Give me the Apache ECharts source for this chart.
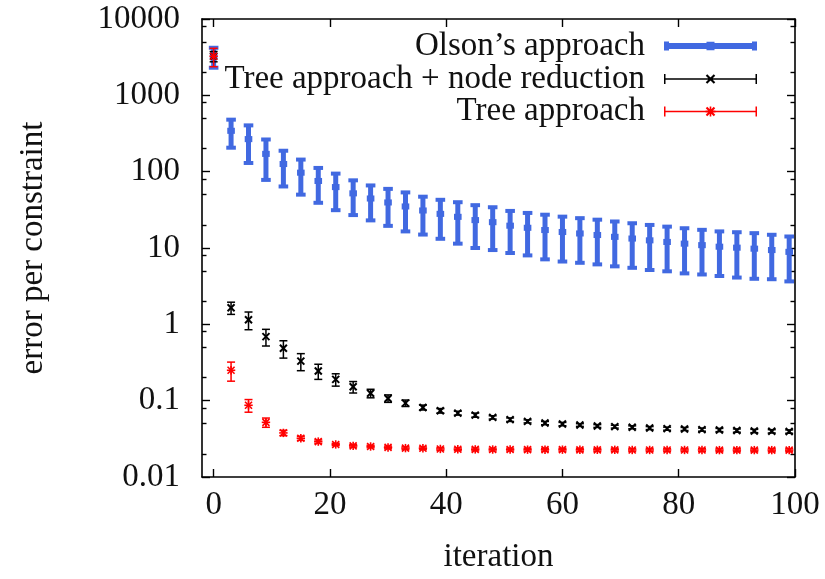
<!DOCTYPE html>
<html>
<head>
<meta charset="utf-8">
<script src="https://cdn.jsdelivr.net/npm/echarts@6/dist/echarts.min.js"></script>
<style>html,body{margin:0;padding:0;background:#fff}#c{width:825px;height:579px}</style>
</head>
<body>
<div id="c"></div>
<script>
const iterations = [0,3,6,9,12,15,18,21,24,27,30,33,36,39,42,45,48,51,54,57,60,63,66,69,72,75,78,81,84,87,90,93,96,99];
const olsonMean = [3250,343,267,171,126,97,75.5,62.8,52,44.5,39.5,35,31,28,25.6,23.2,21.8,19.6,18.4,17.2,16.2,15.5,14.8,14,13.3,12.6,12,11.4,10.9,10.4,10.1,9.8,9.4,8.9];
const olsonStd  = [950,137,137,93,62,47,36.4,31.5,25,21.5,20,18.5,16,14.8,14.2,13.2,12.4,11,10.4,10.1,9.55,9.1,8.7,8.25,7.8,7.45,7.05,6.75,6.4,6.1,6.0,5.85,5.5,5.25];
const nodeRedMean = [3250,1.65,1.15,0.69,0.485,0.33,0.245,0.19,0.152,0.125,0.107,0.0929,0.0815,0.0738,0.0687,0.0647,0.0604,0.0564,0.0536,0.0509,0.0494,0.048,0.0466,0.0457,0.0448,0.0438,0.043,0.0426,0.0418,0.0413,0.0406,0.0401,0.0397,0.0394];
const nodeRedStd  = [500,0.3,0.3,0.17,0.124,0.083,0.055,0.035,0.026,0.016,0.012,0.009,0.006,0.005,0.004,0.004,0.003,0.003,0.0025,0.0025,0.0025,0.002,0.002,0.002,0.002,0.002,0.002,0.002,0.002,0.002,0.002,0.002,0.002,0.002];
const treeMean = [3250,0.25,0.087,0.052,0.0378,0.0322,0.0291,0.0267,0.0256,0.0251,0.0244,0.0239,0.0238,0.0233,0.0231,0.023,0.0229,0.0229,0.0228,0.0228,0.0228,0.0227,0.0227,0.0227,0.0226,0.0226,0.0226,0.0226,0.0226,0.0225,0.0225,0.0225,0.0225,0.0225];
const treeStd  = [880,0.07,0.0164,0.0072,0.003,0.002,0.0015,0.001,0.001,0.001,0.001,0.001,0.001,0.001,0.001,0.001,0.001,0.001,0.001,0.001,0.001,0.001,0.001,0.001,0.001,0.001,0.001,0.001,0.001,0.001,0.001,0.001,0.001,0.001];

const seriesNames = ['Olson\u2019s approach', 'Tree approach + node reduction', 'Tree approach'];
const xTickValues = [0,20,40,60,80,100];
const yTickValues = [0.01,0.1,1,10,100,1000,10000];
const yTickLabels = ['0.01','0.1','1','10','100','1000','10000'];
const yMinorTickValues = [0.02,0.05,0.08,0.2,0.5,0.8,2,5,8,20,50,80,200,500,800,2000,5000,8000];

const FONT = 'Liberation Serif';
const FS = 33;
const TXT = '#111';
const BLUE = '#4169e1', BLACK = '#000000', RED = '#ff0000';

function rows(m, s) { return iterations.map((x, i) => [x, m[i], s[i]]); }

function errRender(cfg) {
  return function (params, api) {
    const x = api.value(0), y = api.value(1), d = api.value(2);
    const c = api.coord([x, y]);
    const t = api.coord([x, y + d]);
    const b = api.coord([x, Math.max(y - d, 1e-6)]);
    const hw = cfg.capHalf;
    const st = (lw) => ({ stroke: cfg.color, lineWidth: lw, fill: null });
    const ch = [
      { type: 'line', shape: { x1: c[0], y1: t[1], x2: c[0], y2: b[1] }, style: st(cfg.lw) },
      { type: 'line', shape: { x1: c[0] - hw, y1: t[1], x2: c[0] + hw, y2: t[1] }, style: st(cfg.capLw) },
      { type: 'line', shape: { x1: c[0] - hw, y1: b[1], x2: c[0] + hw, y2: b[1] }, style: st(cfg.capLw) }
    ];
    const r = cfg.mk;
    if (cfg.marker === 'square') {
      ch.push({ type: 'rect', shape: { x: c[0] - r, y: c[1] - r * 0.8, width: 2 * r, height: 1.6 * r }, style: { fill: cfg.color } });
    } else {
      ch.push({ type: 'line', shape: { x1: c[0] - r, y1: c[1] - r, x2: c[0] + r, y2: c[1] + r }, style: st(cfg.mkLw) });
      ch.push({ type: 'line', shape: { x1: c[0] - r, y1: c[1] + r, x2: c[0] + r, y2: c[1] - r }, style: st(cfg.mkLw) });
      if (cfg.marker === 'star') {
        ch.push({ type: 'line', shape: { x1: c[0] - r * 1.2, y1: c[1], x2: c[0] + r * 1.2, y2: c[1] }, style: st(cfg.mkLw) });
        ch.push({ type: 'line', shape: { x1: c[0], y1: c[1] - r * 1.2, x2: c[0], y2: c[1] + r * 1.2 }, style: st(cfg.mkLw) });
      }
    }
    return { type: 'group', children: ch };
  };
}

// legend icons (93 x 10 box)
const iconBlue = 'path://M0 1.5L93 1.5L93 7.5L0 7.5Z M0 0L5 0L5 9L0 9Z M88 0L93 0L93 9L88 9Z M42.5 0.3L50.5 0.3L50.5 8.7L42.5 8.7Z';
function crossPath(cx) {
  const a = 0.75;
  const p1 = `M${cx-4+a} ${1-a}L${cx+4+a} ${9-a}L${cx+4-a} ${9+a}L${cx-4-a} ${1+a}Z`;
  const p2 = `M${cx-4+a} ${9+a}L${cx-4-a} ${9-a}L${cx+4-a} ${1-a}L${cx+4+a} ${1+a}Z`;
  return p1 + ' ' + p2;
}
const thinBar = 'M0 4.25L93 4.25L93 5.75L0 5.75Z M0 0L1.5 0L1.5 10L0 10Z M91.5 0L93 0L93 10L91.5 10Z';
const iconBlack = 'path://' + thinBar + ' ' + crossPath(46.5);
const iconRed = 'path://' + thinBar + ' ' + crossPath(46.5) + ' M41.5 4.1L51.5 4.1L51.5 5.9L41.5 5.9Z M45.7 0L47.3 0L47.3 10L45.7 10Z';

function legendFor(name, icon, color, top) {
  return {
    data: [name], orient: 'vertical', right: 68, top: top, align: 'right', padding: 0,
    itemWidth: 93, itemHeight: 10, icon: icon, selectedMode: false,
    itemStyle: { color: color, borderWidth: 0 },
    textStyle: { fontFamily: FONT, fontSize: FS, color: TXT, padding: [0, 14, 0, 0] }
  };
}

const chart = echarts.init(document.getElementById('c'), null, { renderer: 'canvas' });
const axisLine = { show: true, onZero: false, lineStyle: { color: '#000', width: 1.6 } };
const tickStyle = { color: '#000', width: 1.4 };
chart.setOption({
  animation: false,
  backgroundColor: '#fff',
  grid: { left: 202, right: 30, top: 19, bottom: 99, containLabel: false },
  legend: [
    legendFor(seriesNames[0], iconBlue, BLUE, 29.5),
    legendFor(seriesNames[1], iconBlack, BLACK, 62.5),
    legendFor(seriesNames[2], iconRed, RED, 95)
  ],
  xAxis: [
    {
      type: 'value', min: -2, max: 100, position: 'bottom',
      axisLine: axisLine,
      axisTick: { show: true, inside: true, length: 8, customValues: xTickValues, lineStyle: tickStyle },
      axisLabel: { customValues: xTickValues, fontFamily: FONT, fontSize: FS, color: TXT, margin: 12 },
      splitLine: { show: false },
      name: 'iteration', nameLocation: 'middle', nameGap: 64,
      nameTextStyle: { fontFamily: FONT, fontSize: FS, color: TXT }
    },
    {
      type: 'value', min: -2, max: 100, position: 'top',
      axisLine: axisLine,
      axisTick: { show: true, inside: true, length: 8, customValues: xTickValues, lineStyle: tickStyle },
      axisLabel: { show: false }, splitLine: { show: false }
    }
  ],
  yAxis: [
    {
      type: 'log', logBase: 10, min: 0.01, max: 10000, splitNumber: 6, position: 'left',
      axisLine: axisLine,
      axisTick: { show: true, inside: true, length: 8, lineStyle: tickStyle },
      axisLabel: {
        fontFamily: FONT, fontSize: FS, color: TXT, margin: 22,
        formatter: function (v) {
          const i = yTickValues.findIndex(t => Math.abs(Math.log10(t) - Math.log10(v)) < 1e-6);
          return i >= 0 ? yTickLabels[i] : '';
        }
      },
      splitLine: { show: false },
      name: 'error per constraint', nameLocation: 'middle', nameGap: 152,
      nameTextStyle: { fontFamily: FONT, fontSize: FS, color: TXT }
    },
    {
      type: 'log', logBase: 10, min: 0.01, max: 10000, splitNumber: 6, position: 'right',
      axisLine: axisLine,
      axisTick: { show: true, inside: true, length: 8, lineStyle: tickStyle },
      axisLabel: { show: false }, splitLine: { show: false }
    },
    {
      type: 'value', min: -2, max: 4, position: 'left',
      axisLine: { show: false, onZero: false },
      axisTick: { show: true, inside: true, length: 4.5, customValues: yMinorTickValues.map(v => Math.log10(v)), lineStyle: tickStyle },
      axisLabel: { show: false }, splitLine: { show: false }
    },
    {
      type: 'value', min: -2, max: 4, position: 'right',
      axisLine: { show: false, onZero: false },
      axisTick: { show: true, inside: true, length: 4.5, customValues: yMinorTickValues.map(v => Math.log10(v)), lineStyle: tickStyle },
      axisLabel: { show: false }, splitLine: { show: false }
    }
  ],
  series: [
    {
      name: seriesNames[0], type: 'custom', xAxisIndex: 0, yAxisIndex: 0,
      itemStyle: { color: BLUE },
      encode: { x: 0, y: 1 },
      renderItem: errRender({ color: BLUE, lw: 5, capLw: 4, capHalf: 4.8, marker: 'square', mk: 3.8 }),
      data: rows(olsonMean, olsonStd), z: 2
    },
    {
      name: seriesNames[1], type: 'custom', xAxisIndex: 0, yAxisIndex: 0,
      itemStyle: { color: BLACK },
      encode: { x: 0, y: 1 },
      renderItem: errRender({ color: BLACK, lw: 1.5, capLw: 1.5, capHalf: 4, marker: 'cross', mk: 3.5, mkLw: 2 }),
      data: rows(nodeRedMean, nodeRedStd), z: 3
    },
    {
      name: seriesNames[2], type: 'custom', xAxisIndex: 0, yAxisIndex: 0,
      itemStyle: { color: RED },
      encode: { x: 0, y: 1 },
      renderItem: errRender({ color: RED, lw: 1.5, capLw: 1.5, capHalf: 4, marker: 'star', mk: 3.5, mkLw: 1.6 }),
      data: rows(treeMean, treeStd), z: 4
    }
  ]
});
</script>
</body>
</html>
